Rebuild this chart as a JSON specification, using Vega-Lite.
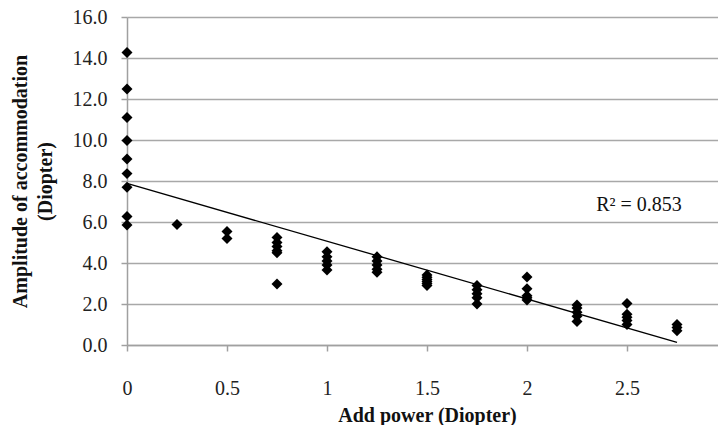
{
  "$schema": "https://vega.github.io/schema/vega-lite/v6.json",
  "width": 600,
  "height": 328,
  "padding": {"left": 10, "top": 7, "right": 0, "bottom": 0},
  "background": "white",
  "config": {
    "view": {"stroke": null},
    "font": "Liberation Serif",
    "axis": {
      "labelFont": "Liberation Serif",
      "titleFont": "Liberation Serif",
      "labelFontSize": 20,
      "titleFontSize": 20,
      "titleFontWeight": "bold",
      "labelColor": "#222",
      "titleColor": "#111",
      "domainColor": "#a0a0a0",
      "domainWidth": 1.5,
      "tickColor": "#a0a0a0",
      "tickWidth": 1.5,
      "tickSize": 6,
      "gridColor": "#a8a8a8",
      "gridWidth": 1.5
    }
  },
  "datasets": {
    "pts": [
      {"add": 0, "amp": 14.27}, {"add": 0, "amp": 12.49}, {"add": 0, "amp": 11.1}, {"add": 0, "amp": 9.98},
      {"add": 0, "amp": 9.07}, {"add": 0, "amp": 8.36}, {"add": 0, "amp": 7.7}, {"add": 0, "amp": 6.27}, {"add": 0, "amp": 5.85},
      {"add": 0.25, "amp": 5.88},
      {"add": 0.5, "amp": 5.54}, {"add": 0.5, "amp": 5.2},
      {"add": 0.75, "amp": 5.25}, {"add": 0.75, "amp": 5.0}, {"add": 0.75, "amp": 4.8}, {"add": 0.75, "amp": 4.6}, {"add": 0.75, "amp": 4.5}, {"add": 0.75, "amp": 2.98},
      {"add": 1.0, "amp": 4.55}, {"add": 1.0, "amp": 4.3}, {"add": 1.0, "amp": 4.1}, {"add": 1.0, "amp": 3.9}, {"add": 1.0, "amp": 3.66},
      {"add": 1.25, "amp": 4.3}, {"add": 1.25, "amp": 4.1}, {"add": 1.25, "amp": 3.9}, {"add": 1.25, "amp": 3.7}, {"add": 1.25, "amp": 3.55},
      {"add": 1.5, "amp": 3.42}, {"add": 1.5, "amp": 3.3}, {"add": 1.5, "amp": 3.2}, {"add": 1.5, "amp": 3.1}, {"add": 1.5, "amp": 3.0}, {"add": 1.5, "amp": 2.9},
      {"add": 1.75, "amp": 2.9}, {"add": 1.75, "amp": 2.7}, {"add": 1.75, "amp": 2.5}, {"add": 1.75, "amp": 2.3}, {"add": 1.75, "amp": 2.0},
      {"add": 2.0, "amp": 3.32}, {"add": 2.0, "amp": 2.75}, {"add": 2.0, "amp": 2.4}, {"add": 2.0, "amp": 2.3}, {"add": 2.0, "amp": 2.2},
      {"add": 2.25, "amp": 1.95}, {"add": 2.25, "amp": 1.8}, {"add": 2.25, "amp": 1.6}, {"add": 2.25, "amp": 1.4}, {"add": 2.25, "amp": 1.15},
      {"add": 2.5, "amp": 2.02}, {"add": 2.5, "amp": 1.5}, {"add": 2.5, "amp": 1.35}, {"add": 2.5, "amp": 1.2}, {"add": 2.5, "amp": 1.0},
      {"add": 2.75, "amp": 1.0}, {"add": 2.75, "amp": 0.85}, {"add": 2.75, "amp": 0.7}
    ],
    "trend": [
      {"add": 0, "amp": 7.88},
      {"add": 2.75, "amp": 0.13}
    ],
    "label": [
      {"add": 2.56, "amp": 6.84, "text": "R² = 0.853"}
    ]
  },
  "layer": [
    {
      "data": {"name": "pts"},
      "mark": {"type": "point", "shape": "diamond", "filled": true, "color": "black", "size": 120, "opacity": 1},
      "encoding": {
        "x": {
          "field": "add", "type": "quantitative",
          "scale": {"domain": [0, 3], "nice": false},
          "axis": {
            "title": "Add power (Diopter)",
            "values": [0, 0.5, 1, 1.5, 2, 2.5, 3],
            "format": "~g",
            "grid": false,
            "labelPadding": 27,
            "titlePadding": 7,
            "labelFlush": false
          }
        },
        "y": {
          "field": "amp", "type": "quantitative",
          "scale": {"domain": [0, 16], "nice": false},
          "axis": {
            "title": ["Amplitude of accommodation", "(Diopter)"],
            "values": [0, 2, 4, 6, 8, 10, 12, 14, 16],
            "format": ".1f",
            "labelPadding": 14,
            "titlePadding": 17,
            "titleLineHeight": 25
          }
        }
      }
    },
    {
      "data": {"name": "trend"},
      "mark": {"type": "line", "color": "black", "strokeWidth": 1.3},
      "encoding": {
        "x": {"field": "add", "type": "quantitative"},
        "y": {"field": "amp", "type": "quantitative"}
      }
    },
    {
      "data": {"name": "label"},
      "mark": {"type": "text", "font": "Liberation Serif", "fontSize": 20, "color": "#111", "align": "center", "baseline": "middle"},
      "encoding": {
        "x": {"field": "add", "type": "quantitative"},
        "y": {"field": "amp", "type": "quantitative"},
        "text": {"field": "text"}
      }
    }
  ]
}
